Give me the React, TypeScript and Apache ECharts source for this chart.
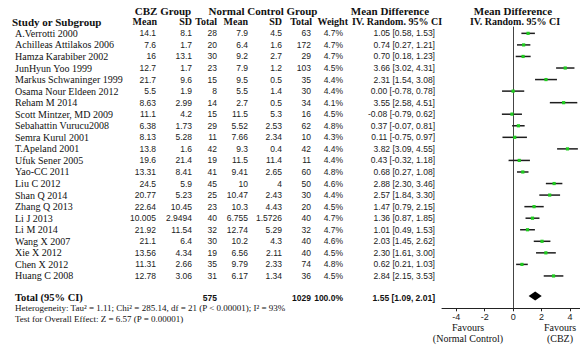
import React, { useEffect, useRef } from "react";
import * as echarts from "echarts";

const studies = [
  "A.Verrotti 2000", "Achilleas Attilakos 2006", "Hamza Karabiber 2002", "JunHyun Yoo 1999",
  "Markus Schwaninger 1999", "Osama Nour Eldeen 2012", "Reham M 2014", "Scott Mintzer, MD 2009",
  "Sebahattin Vurucu2008", "Semra Kurul 2001", "T.Apeland 2001", "Ufuk Sener 2005",
  "Yao-CC 2011", "Liu C 2012", "Shan Q 2014", "Zhang Q 2013", "Li J 2013", "Li M 2014",
  "Wang X 2007", "Xie X 2012", "Chen X 2012", "Huang C 2008",
];
const cbzMean = [14.1, 7.6, 16, 12.7, 21.7, 5.5, 8.63, 11.1, 6.38, 8.13, 13.8, 19.6, 13.31, 24.5, 20.77, 22.64, 10.005, 21.92, 21.1, 13.56, 11.31, 12.78];
const cbzSD = [8.1, 1.7, 13.1, 1.7, 9.6, 1.9, 2.99, 4.2, 1.73, 5.28, 1.6, 21.4, 8.41, 5.9, 5.23, 10.45, 2.9494, 11.54, 6.4, 4.34, 2.66, 3.06];
const cbzTotal = [28, 20, 30, 23, 15, 8, 14, 15, 29, 11, 42, 19, 41, 45, 25, 23, 40, 32, 30, 19, 35, 31];
const ctlMean = [7.9, 6.4, 9.2, 7.9, 9.5, 5.5, 2.7, 11.5, 5.52, 7.66, 9.3, 11.5, 9.41, 10, 10.47, 10.3, 6.755, 12.74, 10.2, 6.56, 9.79, 6.17];
const ctlSD = [4.5, 1.6, 2.7, 1.2, 0.5, 1.4, 0.5, 5.3, 2.53, 2.34, 0.4, 11.4, 2.65, 4, 2.43, 4.43, 1.5726, 5.29, 4.3, 2.11, 2.33, 1.34];
const ctlTotal = [63, 172, 29, 103, 35, 30, 34, 16, 62, 10, 42, 11, 60, 50, 30, 20, 40, 32, 40, 40, 74, 36];
const weights = [4.7, 4.7, 4.7, 4.5, 4.4, 4.4, 4.1, 4.5, 4.8, 4.3, 4.4, 4.4, 4.8, 4.6, 4.4, 4.5, 4.7, 4.7, 4.6, 4.5, 4.8, 4.5];
const md = [1.05, 0.74, 0.70, 3.66, 2.31, 0.00, 3.55, -0.08, 0.37, 0.11, 3.82, 0.43, 0.68, 2.88, 2.57, 1.47, 1.36, 1.01, 2.03, 2.30, 0.62, 2.84];
const mdLow = [0.58, 0.27, 0.18, 3.02, 1.54, -0.78, 2.58, -0.79, -0.07, -0.75, 3.09, -0.32, 0.27, 2.30, 1.84, 0.79, 0.87, 0.49, 1.45, 1.61, 0.21, 2.15];
const mdHigh = [1.53, 1.21, 1.23, 4.31, 3.08, 0.78, 4.51, 0.62, 0.81, 0.97, 4.55, 1.18, 1.08, 3.46, 3.30, 2.15, 1.85, 1.53, 2.62, 3.00, 1.03, 3.53];
const totalCBZ = 575;
const totalCtl = 1029;
const totalWeight = "100.0%";
const pooled = { est: 1.55, lo: 1.09, hi: 2.01 };
const xTicks = [-4, -2, 0, 2, 4];
const heterogeneityText = "Heterogeneity: Tau² = 1.11; Chi² = 285.14, df = 21 (P < 0.00001); I² = 93%";
const overallText = "Test for Overall Effect: Z = 6.57 (P = 0.00001)";

const SERIF = '"Liberation Serif", "DejaVu Serif", serif';
const SANS = '"Liberation Sans", Arial, sans-serif';
const TOTAL_ROW = 22.73;

function txt(text: string, x: number, y: number, font: string, align: string = "left", fill: string = "#111") {
  return {
    type: "text",
    style: {
      text, x, y, font, fill,
      align, verticalAlign: "middle",
      textAlign: align, textVerticalAlign: "middle",
    },
  };
}

const fmt2 = (v: number) => v.toFixed(2);
const ciStr = (e: number, l: number, h: number) => `${fmt2(e)} [${fmt2(l)}, ${fmt2(h)}]`;

export default function App() {
  const ref = useRef<HTMLDivElement>(null);
  useEffect(() => {
    if (!ref.current) return;
    const chart = echarts.init(ref.current, null, { renderer: "svg" });
    const numFont = `8.5px ${SANS}`;
    const nameFont = `10px ${SERIF}`;
    const head1Font = `bold 11px ${SERIF}`;
    const head2Font = `bold 10px ${SERIF}`;

    const tableData = studies.map((_, i) => [0, i]);
    const ciData = studies.map((_, i) => [i, md[i], mdLow[i], mdHigh[i]]);

    const option: any = {
      animation: false,
      backgroundColor: "#ffffff",
      grid: { left: 442, right: 0, top: 27, bottom: 39.7, containLabel: false },
      xAxis: {
        type: "value",
        min: -5,
        max: 4.7,
        axisLine: { show: true, onZero: false, lineStyle: { color: "#222", width: 1 } },
        axisTick: { show: true, length: 3, customValues: xTicks, lineStyle: { color: "#222" } },
        axisLabel: { customValues: xTicks, margin: 4, fontSize: 9, fontFamily: SANS, color: "#222" },
        splitLine: { show: false },
      },
      yAxis: {
        type: "value",
        min: -0.55,
        max: 23.8,
        inverse: true,
        axisLine: { show: true, onZero: true, lineStyle: { color: "#444", width: 1 } },
        axisTick: { show: false },
        axisLabel: { show: false },
        splitLine: { show: false },
      },
      series: [
        {
          type: "custom",
          name: "table",
          silent: true,
          clip: false,
          data: tableData,
          encode: { x: 0, y: 1 },
          renderItem: (params: any, api: any) => {
            const i = api.value(1);
            const y = api.coord([0, i])[1];
            return {
              type: "group",
              children: [
                txt(studies[i], 15, y, nameFont, "left"),
                txt(String(cbzMean[i]), 156, y, numFont, "right", "#222"),
                txt(String(cbzSD[i]), 192, y, numFont, "right", "#222"),
                txt(String(cbzTotal[i]), 217, y, numFont, "right", "#222"),
                txt(String(ctlMean[i]), 248, y, numFont, "right", "#222"),
                txt(String(ctlSD[i]), 282, y, numFont, "right", "#222"),
                txt(String(ctlTotal[i]), 311, y, numFont, "right", "#222"),
                txt(weights[i].toFixed(1) + "%", 343, y, numFont, "right", "#222"),
                txt(ciStr(md[i], mdLow[i], mdHigh[i]), 435, y, numFont, "right", "#222"),
              ],
            };
          },
        },
        {
          type: "custom",
          name: "total",
          silent: true,
          clip: false,
          data: [[0, TOTAL_ROW]],
          encode: { x: 0, y: 1 },
          renderItem: (params: any, api: any) => {
            const y = api.coord([0, api.value(1)])[1] + 2;
            return {
              type: "group",
              children: [
                txt("Total (95% CI)", 15, y, `bold 10.5px ${SERIF}`, "left"),
                txt(String(totalCBZ), 217, y, `bold 8.5px ${SANS}`, "right"),
                txt(String(totalCtl), 311, y, `bold 8.5px ${SANS}`, "right"),
                txt(totalWeight, 343, y, `bold 8.5px ${SANS}`, "right"),
                txt(ciStr(pooled.est, pooled.lo, pooled.hi), 435, y, `bold 8.5px ${SANS}`, "right"),
              ],
            };
          },
        },
        {
          type: "custom",
          name: "ci",
          silent: true,
          clip: false,
          data: ciData,
          encode: { x: [1, 2, 3], y: 0 },
          renderItem: (params: any, api: any) => {
            const r = api.value(0);
            const p = api.coord([api.value(1), r]);
            const pl = api.coord([api.value(2), r]);
            const ph = api.coord([api.value(3), r]);
            return {
              type: "group",
              children: [
                {
                  type: "line",
                  shape: { x1: pl[0], y1: pl[1], x2: ph[0], y2: ph[1] },
                  style: { stroke: "#1e1e1e", lineWidth: 1.5 },
                },
                {
                  type: "rect",
                  shape: { x: p[0] - 1.6, y: p[1] - 1.6, width: 3.2, height: 3.2 },
                  style: { fill: "#1fcc1f" },
                },
              ],
            };
          },
        },
        {
          type: "custom",
          name: "pooled",
          silent: true,
          clip: false,
          data: [[TOTAL_ROW, pooled.est, pooled.lo, pooled.hi]],
          encode: { x: [1, 2, 3], y: 0 },
          renderItem: (params: any, api: any) => {
            const r = api.value(0);
            const p = api.coord([api.value(1), r]);
            const pl = api.coord([api.value(2), r]);
            const ph = api.coord([api.value(3), r]);
            return {
              type: "polygon",
              shape: { points: [[pl[0], p[1]], [p[0], p[1] - 4.5], [ph[0], p[1]], [p[0], p[1] + 4.5]] },
              style: { fill: "#000" },
            };
          },
        },
      ],
      graphic: [
        txt("CBZ Group", 163, 11, head1Font, "center"),
        txt("Normal Control Group", 263, 11, head1Font, "center"),
        txt("Mean Difference", 390, 11, head1Font, "center"),
        txt("Mean Difference", 513, 11, head1Font, "center"),
        txt("Study or Subgroup", 12, 21.5, head1Font, "left"),
        txt("Mean", 157, 21.5, head2Font, "right"),
        txt("SD", 192, 21.5, head2Font, "right"),
        txt("Total", 217, 21.5, head2Font, "right"),
        txt("Mean", 248, 21.5, head2Font, "right"),
        txt("SD", 282, 21.5, head2Font, "right"),
        txt("Total", 312, 21.5, head2Font, "right"),
        txt("Weight", 348, 21.5, head2Font, "right"),
        txt("IV. Random. 95% CI", 397, 21.5, head2Font, "center"),
        txt("IV. Random. 95% CI", 515, 21.5, head2Font, "center"),
        txt(heterogeneityText, 15, 307.5, `9px ${SERIF}`, "left"),
        txt(overallText, 15, 319, `9px ${SERIF}`, "left"),
        txt("Favours", 468, 327.5, `10px ${SERIF}`, "center"),
        txt("(Normal Control)", 468, 338, `10px ${SERIF}`, "center"),
        txt("Favours", 560, 327.5, `10px ${SERIF}`, "center"),
        txt("(CBZ)", 560, 338, `10px ${SERIF}`, "center"),
      ],
    };
    chart.setOption(option);
    return () => chart.dispose();
  }, []);
  return (
    <div
      ref={ref}
      style={{ position: "fixed", left: 0, top: 0, width: 580, height: 348, background: "#fff" }}
    />
  );
}
